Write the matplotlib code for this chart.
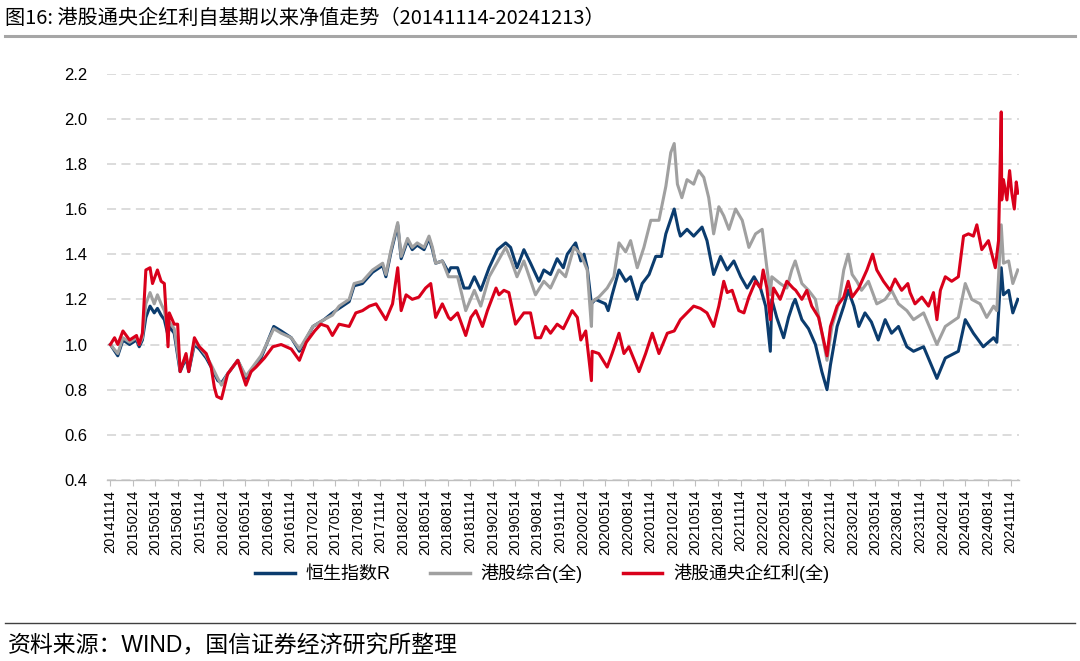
"""港股通央企红利自基期以来净值走势 (20141114-20241213)"""

import matplotlib
matplotlib.use("Agg")
import matplotlib.pyplot as plt
import matplotlib.dates as mdates
from matplotlib.lines import Line2D
import pandas as pd

# Latin text in an Arial-like face, Chinese falls back to Noto CJK
plt.rcParams['font.family'] = ['Liberation Sans', 'Noto Sans CJK SC', 'DejaVu Sans']

# 恒生指数R
hsi_dates = [
    "2014-11-14", "2014-12-14", "2015-01-04", "2015-01-31", "2015-02-28", "2015-03-11", "2015-03-24",
    "2015-04-07", "2015-04-24", "2015-05-11", "2015-05-24", "2015-06-08", "2015-06-21", "2015-07-06",
    "2015-07-11", "2015-07-31", "2015-08-24", "2015-09-17", "2015-09-28", "2015-10-21", "2015-11-10",
    "2015-12-08", "2015-12-28", "2016-01-24", "2016-02-08", "2016-03-04", "2016-04-14", "2016-05-17",
    "2016-07-17", "2016-09-07", "2016-10-07", "2016-11-17", "2016-12-20", "2017-02-13", "2017-03-30",
    "2017-05-03", "2017-05-30", "2017-07-10", "2017-07-30", "2017-09-02", "2017-10-13", "2017-11-23",
    "2017-12-06", "2017-12-27", "2018-01-23", "2018-02-06", "2018-03-04", "2018-03-23", "2018-04-12",
    "2018-05-10", "2018-05-30", "2018-06-13", "2018-06-26", "2018-07-23", "2018-08-17", "2018-08-26",
    "2018-09-23", "2018-10-19", "2018-11-09", "2018-11-30", "2018-12-26", "2019-01-29", "2019-03-04",
    "2019-04-06", "2019-04-26", "2019-05-22", "2019-06-19", "2019-07-16", "2019-08-19", "2019-09-08",
    "2019-10-05", "2019-11-01", "2019-11-26", "2019-12-12", "2020-01-15", "2020-02-05", "2020-02-18",
    "2020-03-02", "2020-03-19", "2020-04-04", "2020-05-15", "2020-05-26", "2020-06-11", "2020-07-09",
    "2020-08-05", "2020-08-25", "2020-09-21", "2020-10-11", "2020-11-08", "2020-12-05", "2020-12-28",
    "2021-01-15", "2021-02-18", "2021-03-07", "2021-03-15", "2021-04-11", "2021-05-08", "2021-06-11",
    "2021-07-01", "2021-07-28", "2021-08-25", "2021-09-21", "2021-10-18", "2021-11-15", "2021-12-11",
    "2022-01-08", "2022-02-03", "2022-02-24", "2022-03-15", "2022-03-21", "2022-04-10", "2022-05-08",
    "2022-05-28", "2022-06-15", "2022-06-24", "2022-07-21", "2022-08-17", "2022-09-14", "2022-10-10",
    "2022-10-31", "2022-11-14", "2022-12-11", "2023-01-07", "2023-01-25", "2023-02-17", "2023-03-09",
    "2023-04-03", "2023-04-29", "2023-05-27", "2023-06-24", "2023-07-20", "2023-08-17", "2023-09-20",
    "2023-10-17", "2023-11-27", "2024-01-20", "2024-02-23", "2024-04-16", "2024-05-14", "2024-06-16",
    "2024-07-26", "2024-09-06", "2024-09-19", "2024-10-07", "2024-10-16", "2024-11-06", "2024-11-23",
    "2024-12-13",
]
hsi_values = [
    1.00, 0.95, 1.02, 1.00, 1.02, 0.99, 1.02,
    1.12, 1.17, 1.14, 1.16, 1.13, 1.11, 1.04,
    1.08, 1.05, 0.88, 0.94, 0.88, 1.00, 0.98,
    0.94, 0.90, 0.84, 0.83, 0.87, 0.93, 0.85,
    0.94, 1.08, 1.06, 1.03, 0.97, 1.08, 1.11,
    1.14, 1.16, 1.19, 1.26, 1.27, 1.32, 1.35,
    1.30, 1.41, 1.53, 1.38, 1.46, 1.42, 1.44,
    1.42, 1.47, 1.42, 1.36, 1.37, 1.32, 1.34,
    1.34, 1.25, 1.25, 1.30, 1.24, 1.34, 1.42,
    1.45, 1.43, 1.34, 1.42, 1.36, 1.28, 1.33,
    1.31, 1.38, 1.34, 1.40, 1.45, 1.37, 1.40,
    1.34, 1.18, 1.20, 1.18, 1.15, 1.22, 1.33,
    1.28, 1.30, 1.20, 1.27, 1.31, 1.39, 1.39,
    1.49, 1.60, 1.51, 1.48, 1.51, 1.48, 1.52,
    1.46, 1.31, 1.39, 1.33, 1.37, 1.30, 1.25,
    1.30, 1.25, 1.17, 0.97, 1.20, 1.12, 1.03,
    1.12, 1.18, 1.20, 1.11, 1.07, 1.00, 0.88,
    0.80, 0.91, 1.08, 1.17, 1.24, 1.17, 1.08,
    1.14, 1.10, 1.02, 1.11, 1.05, 1.08, 0.99,
    0.97, 0.99, 0.85, 0.94, 0.97, 1.11, 1.05,
    0.99, 1.03, 1.01, 1.34, 1.22, 1.24, 1.14,
    1.20,
]

# 港股综合(全)
hkc_dates = [
    "2014-11-14", "2014-12-14", "2015-01-04", "2015-01-31", "2015-02-28", "2015-03-11", "2015-03-24",
    "2015-04-07", "2015-04-24", "2015-05-11", "2015-05-24", "2015-06-08", "2015-06-21", "2015-07-06",
    "2015-07-11", "2015-07-31", "2015-08-24", "2015-09-17", "2015-09-28", "2015-10-21", "2015-11-10",
    "2015-12-08", "2015-12-28", "2016-01-24", "2016-02-08", "2016-03-04", "2016-04-14", "2016-05-17",
    "2016-07-17", "2016-09-07", "2016-10-07", "2016-11-17", "2016-12-20", "2017-02-13", "2017-03-30",
    "2017-05-03", "2017-05-30", "2017-07-10", "2017-07-30", "2017-09-02", "2017-10-13", "2017-11-23",
    "2017-12-06", "2017-12-27", "2018-01-23", "2018-02-06", "2018-03-04", "2018-03-23", "2018-04-12",
    "2018-05-10", "2018-05-30", "2018-06-13", "2018-06-26", "2018-07-23", "2018-08-17", "2018-09-23",
    "2018-10-26", "2018-11-30", "2018-12-26", "2019-01-29", "2019-04-06", "2019-04-26", "2019-05-22",
    "2019-06-19", "2019-08-05", "2019-09-08", "2019-10-05", "2019-11-08", "2019-12-05", "2020-01-08",
    "2020-02-05", "2020-03-02", "2020-03-19", "2020-03-22", "2020-04-18", "2020-05-22", "2020-06-18",
    "2020-07-09", "2020-08-05", "2020-08-25", "2020-09-21", "2020-10-18", "2020-11-15", "2020-12-18",
    "2021-01-15", "2021-02-04", "2021-02-18", "2021-03-03", "2021-03-21", "2021-04-11", "2021-05-08",
    "2021-05-28", "2021-06-18", "2021-07-08", "2021-07-28", "2021-08-18", "2021-09-07", "2021-09-28",
    "2021-10-25", "2021-11-21", "2021-12-18", "2022-01-14", "2022-02-10", "2022-03-01", "2022-03-15",
    "2022-03-21", "2022-04-24", "2022-05-21", "2022-06-10", "2022-06-24", "2022-07-21", "2022-08-17",
    "2022-09-14", "2022-10-10", "2022-10-31", "2022-11-20", "2022-12-17", "2023-01-07", "2023-01-25",
    "2023-02-10", "2023-03-01", "2023-03-20", "2023-04-17", "2023-05-21", "2023-06-24", "2023-07-20",
    "2023-08-17", "2023-09-20", "2023-10-17", "2023-11-27", "2024-01-20", "2024-02-23", "2024-04-16",
    "2024-05-14", "2024-06-09", "2024-07-13", "2024-08-09", "2024-09-06", "2024-09-19", "2024-10-07",
    "2024-10-16", "2024-11-06", "2024-11-23", "2024-12-13",
]
hkc_values = [
    1.00, 0.96, 1.03, 1.01, 1.03, 1.00, 1.03,
    1.18, 1.23, 1.18, 1.22, 1.18, 1.15, 1.06,
    1.10, 1.07, 0.89, 0.95, 0.89, 1.01, 0.99,
    0.95, 0.91, 0.85, 0.82, 0.87, 0.93, 0.86,
    0.95, 1.07, 1.05, 1.03, 0.98, 1.08, 1.11,
    1.13, 1.17, 1.20, 1.27, 1.28, 1.33, 1.36,
    1.31, 1.42, 1.54, 1.39, 1.47, 1.43, 1.45,
    1.43, 1.48, 1.43, 1.36, 1.37, 1.30, 1.30,
    1.15, 1.24, 1.17, 1.30, 1.43, 1.38, 1.30,
    1.37, 1.22, 1.28, 1.25, 1.33, 1.30, 1.43,
    1.40, 1.33, 1.08, 1.19, 1.21, 1.25, 1.30,
    1.45, 1.41, 1.46, 1.34, 1.43, 1.55, 1.55,
    1.70, 1.85, 1.89, 1.71, 1.65, 1.73, 1.71,
    1.77, 1.74, 1.65, 1.49, 1.61, 1.57, 1.51,
    1.60, 1.55, 1.43, 1.49, 1.51, 1.34, 1.22,
    1.30, 1.27, 1.25, 1.33, 1.37, 1.27, 1.24,
    1.20, 1.05, 0.93, 1.08, 1.18, 1.33, 1.40,
    1.31, 1.28, 1.24, 1.28, 1.18, 1.20, 1.24,
    1.18, 1.15, 1.11, 1.14, 1.00, 1.08, 1.12,
    1.27, 1.20, 1.18, 1.12, 1.17, 1.15, 1.53,
    1.36, 1.37, 1.27, 1.33,
]

# 港股通央企红利(全)
red_dates = [
    "2014-11-14", "2014-12-01", "2014-12-14", "2015-01-04", "2015-01-31", "2015-02-28", "2015-03-11",
    "2015-03-24", "2015-04-07", "2015-04-24", "2015-05-04", "2015-05-24", "2015-06-08", "2015-06-21",
    "2015-07-06", "2015-07-11", "2015-07-31", "2015-08-14", "2015-08-24", "2015-09-17", "2015-09-28",
    "2015-10-21", "2015-11-10", "2015-12-08", "2015-12-28", "2016-01-10", "2016-01-20", "2016-02-08",
    "2016-03-04", "2016-04-14", "2016-05-17", "2016-06-07", "2016-06-27", "2016-07-31", "2016-09-03",
    "2016-10-07", "2016-11-17", "2016-12-20", "2017-01-17", "2017-02-20", "2017-03-17", "2017-04-13",
    "2017-05-03", "2017-05-30", "2017-07-10", "2017-08-06", "2017-09-02", "2017-09-30", "2017-10-27",
    "2017-12-06", "2018-01-02", "2018-01-23", "2018-02-06", "2018-02-26", "2018-03-23", "2018-04-19",
    "2018-05-16", "2018-06-06", "2018-06-26", "2018-07-23", "2018-08-17", "2018-08-26", "2018-09-23",
    "2018-10-26", "2018-11-16", "2018-12-06", "2019-01-02", "2019-01-22", "2019-02-26", "2019-03-10",
    "2019-03-30", "2019-04-19", "2019-05-16", "2019-06-19", "2019-07-16", "2019-08-05", "2019-08-26",
    "2019-09-15", "2019-10-05", "2019-11-01", "2019-11-26", "2020-01-01", "2020-01-22", "2020-02-05",
    "2020-02-25", "2020-03-19", "2020-03-22", "2020-04-18", "2020-05-22", "2020-06-11", "2020-07-09",
    "2020-07-29", "2020-08-18", "2020-09-28", "2020-10-25", "2020-11-21", "2020-12-18", "2021-01-21",
    "2021-02-18", "2021-03-15", "2021-04-11", "2021-05-08", "2021-06-04", "2021-07-01", "2021-07-28",
    "2021-08-18", "2021-09-07", "2021-09-21", "2021-10-11", "2021-11-07", "2021-11-28", "2021-12-18",
    "2022-01-14", "2022-02-03", "2022-02-14", "2022-03-01", "2022-03-15", "2022-03-28", "2022-04-24",
    "2022-05-21", "2022-06-15", "2022-06-26", "2022-07-21", "2022-08-10", "2022-08-30", "2022-09-27",
    "2022-10-31", "2022-11-14", "2022-12-11", "2023-01-07", "2023-01-25", "2023-02-10", "2023-03-09",
    "2023-04-11", "2023-05-04", "2023-05-21", "2023-06-17", "2023-07-14", "2023-08-03", "2023-08-30",
    "2023-09-24", "2023-10-03", "2023-10-23", "2023-11-20", "2023-12-17", "2024-01-06", "2024-01-20",
    "2024-02-03", "2024-02-23", "2024-03-20", "2024-04-16", "2024-05-07", "2024-05-27", "2024-06-16",
    "2024-06-30", "2024-07-20", "2024-08-16", "2024-08-30", "2024-09-13", "2024-09-26", "2024-10-07",
    "2024-10-09", "2024-10-16", "2024-10-30", "2024-11-10", "2024-11-19", "2024-11-29", "2024-12-07",
    "2024-12-13",
]
red_values = [
    1.00, 1.03, 1.00, 1.06, 1.02, 1.04, 1.00,
    1.05, 1.33, 1.34, 1.27, 1.33, 1.28, 1.27,
    0.99, 1.14, 1.09, 1.09, 0.88, 0.96, 0.88,
    1.03, 0.99, 0.96, 0.90, 0.81, 0.77, 0.76,
    0.87, 0.93, 0.82, 0.88, 0.90, 0.94, 0.99,
    1.00, 0.98, 0.93, 1.01, 1.06, 1.09, 1.08,
    1.04, 1.09, 1.08, 1.14, 1.15, 1.17, 1.18,
    1.11, 1.18, 1.34, 1.15, 1.22, 1.20, 1.21,
    1.25, 1.27, 1.12, 1.18, 1.12, 1.11, 1.14,
    1.04, 1.12, 1.15, 1.08, 1.15, 1.25, 1.22,
    1.24, 1.23, 1.09, 1.14, 1.14, 1.03, 1.03,
    1.08, 1.05, 1.09, 1.07, 1.15, 1.12, 1.02,
    1.06, 0.84, 0.97, 0.96, 0.90, 0.96, 1.05,
    0.96, 0.99, 0.88, 0.96, 1.05, 0.96, 1.05,
    1.06, 1.11, 1.14, 1.17, 1.16, 1.14, 1.08,
    1.17, 1.28, 1.23, 1.24, 1.15, 1.14, 1.21,
    1.28, 1.25, 1.33, 1.25, 1.11, 1.25, 1.20,
    1.28, 1.25, 1.24, 1.20, 1.24, 1.17, 1.12,
    0.95, 1.08, 1.17, 1.21, 1.28, 1.21, 1.25,
    1.33, 1.40, 1.33, 1.28, 1.24, 1.29, 1.24,
    1.27, 1.23, 1.18, 1.21, 1.17, 1.23, 1.11,
    1.24, 1.30, 1.28, 1.30, 1.48, 1.49, 1.48,
    1.53, 1.42, 1.46, 1.40, 1.34, 1.46, 2.03,
    1.64, 1.73, 1.64, 1.77, 1.67, 1.60, 1.72,
    1.67,
]

series_names = ["恒生指数R", "港股综合(全)", "港股通央企红利(全)"]
series_colors = ["#0b3c6e", "#a0a0a0", "#d9001b"]

# quarterly ticks, 20141114 ... 20241114
tick_dates = pd.date_range("2014-11-01", "2024-11-01", freq="3MS") + pd.Timedelta(days=13)


def main():
    fig = plt.figure(figsize=(10.8, 6.61), dpi=100)
    ax = fig.add_axes([0.099, 0.2738, 0.8445, 0.615])

    all_series = [(hsi_dates, hsi_values), (hkc_dates, hkc_values), (red_dates, red_values)]
    for (d, v), name, color in zip(all_series, series_names, series_colors):
        ax.plot(pd.to_datetime(d), v, color=color, lw=2.2, label=name, solid_joinstyle='round')

    ax.set_ylim(0.4, 2.2)
    ax.set_yticks([0.4, 0.6, 0.8, 1.0, 1.2, 1.4, 1.6, 1.8, 2.0, 2.2])
    ax.yaxis.set_major_formatter(plt.FormatStrFormatter('%.1f'))
    ax.set_xlim(pd.Timestamp("2014-10-31"), pd.Timestamp("2024-12-18"))
    ax.set_xticks(tick_dates)
    ax.xaxis.set_major_formatter(mdates.DateFormatter('%Y%m%d'))

    ax.tick_params(axis='x', labelrotation=90, labelsize=10.5, length=4, color='#bfbfbf', pad=3)
    ax.tick_params(axis='y', labelsize=12, length=0, pad=14)

    ax.grid(axis='y', color='#d9d9d9', linestyle=(0, (5, 3)), linewidth=1.3)
    ax.set_axisbelow(True)
    for s in ['top', 'right', 'left']:
        ax.spines[s].set_visible(False)
    ax.spines['bottom'].set_color('#bfbfbf')
    ax.spines['bottom'].set_linewidth(1.0)

    handles = [Line2D([], [], color=c, lw=2.5) for c in series_colors]
    fig.legend(handles, series_names, loc='center', bbox_to_anchor=(0.502, 0.133),
               ncol=3, frameon=False, fontsize=13, handlelength=2.2,
               handletextpad=0.6, columnspacing=2.2)

    fig.text(0.005, 1 - 18 / 661, "图16: 港股通央企红利自基期以来净值走势（20141114-20241213）",
             fontsize=14.5, va='center', ha='left',
             family=['Liberation Sans Narrow', 'Noto Sans CJK SC', 'DejaVu Sans'])
    fig.add_artist(Line2D([0.005, 0.995], [1 - 36 / 661, 1 - 36 / 661], color='#a6a6a6', lw=2.2))
    fig.add_artist(Line2D([0.005, 0.995], [1 - 623 / 661, 1 - 623 / 661], color='#404040', lw=1.0))
    fig.text(0.007, 1 - 646 / 661, "资料来源：WIND，国信证券经济研究所整理",
             fontsize=16.5, va='center', ha='left')

    fig.savefig('out.png', dpi=100)


if __name__ == "__main__":
    main()
